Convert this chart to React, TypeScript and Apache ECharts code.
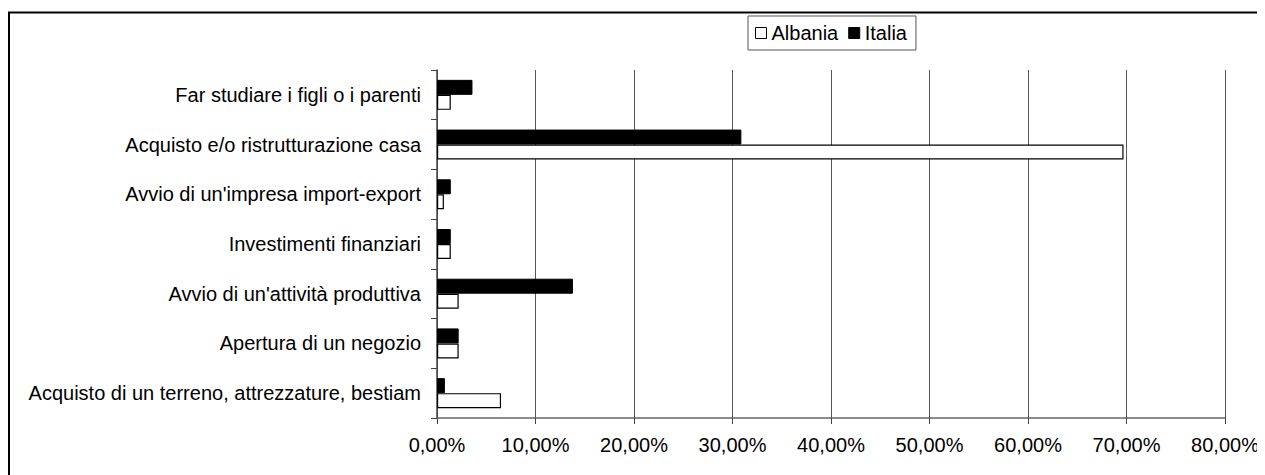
import React, { useEffect, useRef } from "react";
import * as echarts from "echarts";

const categories = [
  "Acquisto di un terreno, attrezzature, bestiam",
  "Apertura di un negozio",
  "Avvio di un'attività produttiva",
  "Investimenti finanziari",
  "Avvio di un'impresa import-export",
  "Acquisto e/o ristrutturazione casa",
  "Far studiare i figli o i parenti",
];
const albania = [6.5, 2.2, 2.2, 1.4, 0.7, 69.7, 1.4];
const italia = [0.8, 2.2, 13.8, 1.4, 1.4, 30.9, 3.6];
const seriesNames = ["Albania", "Italia"];
const xMin = 0;
const xMax = 80;
const xStep = 10;

const FONT = "'Liberation Sans', Arial, sans-serif";

export default function App() {
  const ref = useRef<HTMLDivElement>(null);
  useEffect(() => {
    document.body.style.overflow = "hidden";
    if (!ref.current) return;
    const chart = echarts.init(ref.current, null, { renderer: "svg" });
    chart.setOption({
      animation: false,
      backgroundColor: "#fff",
      textStyle: { fontFamily: FONT },
      graphic: [
        {
          type: "rect",
          shape: { x: 1, y: 4.5, width: 1400, height: 600 },
          style: { fill: "none", stroke: "#000", lineWidth: 2 },
          silent: true,
        },
      ],
      legend: {
        left: 740,
        top: 8,
        padding: [7, 9, 7, 7],
        itemGap: 10,
        itemWidth: 11,
        itemHeight: 11,
        borderColor: "#555",
        borderWidth: 1,
        borderRadius: 0,
        textStyle: { fontSize: 20, color: "#000", fontFamily: FONT },
        data: [
          { name: seriesNames[0], icon: "rect", itemStyle: { color: "#fff", borderColor: "#000", borderWidth: 1 } },
          { name: seriesNames[1], icon: "rect", itemStyle: { color: "#000", borderColor: "#000", borderWidth: 1 } },
        ],
      },
      grid: {
        left: 429,
        top: 62,
        width: 788,
        height: 348,
        containLabel: false,
        outerBoundsMode: "none",
      },
      xAxis: {
        type: "value",
        min: xMin,
        max: xMax,
        interval: xStep,
        axisLine: { show: true, lineStyle: { color: "#666", width: 1.5 } },
        axisTick: { show: true, length: 6, lineStyle: { color: "#444", width: 1 } },
        axisLabel: {
          margin: 17,
          fontSize: 20,
          color: "#000",
          fontFamily: FONT,
          formatter: (v: number) => v.toFixed(2).replace(".", ",") + "%",
        },
        splitLine: {
          show: true,
          lineStyle: { color: "#555", width: 1 },
        },
      },
      yAxis: {
        type: "category",
        data: categories,
        axisLine: { show: true, lineStyle: { color: "#444", width: 1.5 } },
        axisTick: { show: true, length: 6, lineStyle: { color: "#444", width: 1 } },
        axisLabel: { margin: 16, fontSize: 20, color: "#000", fontFamily: FONT },
        splitLine: { show: false },
      },
      series: [
        {
          name: seriesNames[1],
          type: "bar",
          data: italia,
          barWidth: 15,
          barGap: "0%",
          itemStyle: { color: "#000", borderColor: "#000", borderWidth: 1 },
        },
        {
          name: seriesNames[0],
          type: "bar",
          data: albania,
          barWidth: 15,
          barGap: "0%",
          itemStyle: { color: "#fff", borderColor: "#000", borderWidth: 1.2 },
        },
      ],
    });
    return () => chart.dispose();
  }, []);
  return <div ref={ref} style={{ width: 1262, height: 467 }} />;
}
